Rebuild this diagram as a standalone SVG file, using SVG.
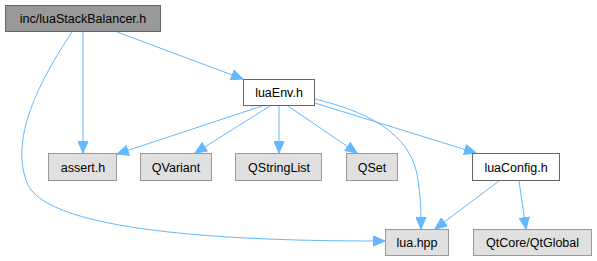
<svg xmlns="http://www.w3.org/2000/svg" width="597" height="261" viewBox="0 0 597 261">
<style>
.n rect{stroke-width:1}
.main rect{fill:#999999;stroke:#666666}
.loc rect{fill:#ffffff;stroke:#666666}
.ext rect{fill:#e0e0e0;stroke:#999999}
text{font-family:"Liberation Sans",Arial,sans-serif;font-size:12.5px;fill:#000000;text-anchor:middle}
.e path{fill:none;stroke:#63b8ff;stroke-width:1}
</style>
<defs>
<marker id="ah" markerUnits="userSpaceOnUse" markerWidth="13" markerHeight="11" refX="12" refY="5.5" orient="auto" viewBox="0 0 13 11">
<path d="M0.5,0.5 L12,5.5 L0.5,10.5 Z" fill="#63b8ff" stroke="#63b8ff"/>
</marker>
</defs>
<g id="connectors" class="e">
<path d="M83,32 L83,153" marker-end="url(#ah)"/>
<path d="M72,32 C40,80 8,140 28,185 C55,240 300,241 385,241" marker-end="url(#ah)"/>
<path d="M117,32 L243,79" marker-end="url(#ah)"/>
<path d="M262,106 L117,154" marker-end="url(#ah)"/>
<path d="M270,106 L195,153" marker-end="url(#ah)"/>
<path d="M279,106 L279,153" marker-end="url(#ah)"/>
<path d="M288,106 L357,153" marker-end="url(#ah)"/>
<path d="M315,99 C360,110 412,130 418,180 C421,200 421,215 421,229" marker-end="url(#ah)"/>
<path d="M315,103 L476,153" marker-end="url(#ah)"/>
<path d="M499,181 L435,229" marker-end="url(#ah)"/>
<path d="M519,181 L526,229" marker-end="url(#ah)"/>
</g>
<g id="node-inc" class="n main"><rect x="5.5" y="5.5" width="155" height="26"/><text x="83" y="23">inc/luaStackBalancer.h</text></g>
<g id="node-luaEnv" class="n loc"><rect x="243.5" y="79.5" width="71" height="26"/><text x="279" y="97">luaEnv.h</text></g>
<g id="node-assert" class="n ext"><rect x="48.5" y="153.5" width="68" height="27"/><text x="83" y="171.5">assert.h</text></g>
<g id="node-QVariant" class="n ext"><rect x="140.5" y="153.5" width="71" height="27"/><text x="176" y="171.5">QVariant</text></g>
<g id="node-QStringList" class="n ext"><rect x="235.5" y="153.5" width="86" height="27"/><text x="279" y="171.5">QStringList</text></g>
<g id="node-QSet" class="n ext"><rect x="346.5" y="153.5" width="51" height="27"/><text x="372" y="171.5">QSet</text></g>
<g id="node-luaConfig" class="n loc"><rect x="472.5" y="153.5" width="87" height="27"/><text x="516" y="171.5">luaConfig.h</text></g>
<g id="node-luahpp" class="n ext"><rect x="385.5" y="229.5" width="63" height="26"/><text x="417" y="247">lua.hpp</text></g>
<g id="node-QtGlobal" class="n ext"><rect x="473.5" y="229.5" width="118" height="26"/><text x="532.5" y="247">QtCore/QtGlobal</text></g>
</svg>
